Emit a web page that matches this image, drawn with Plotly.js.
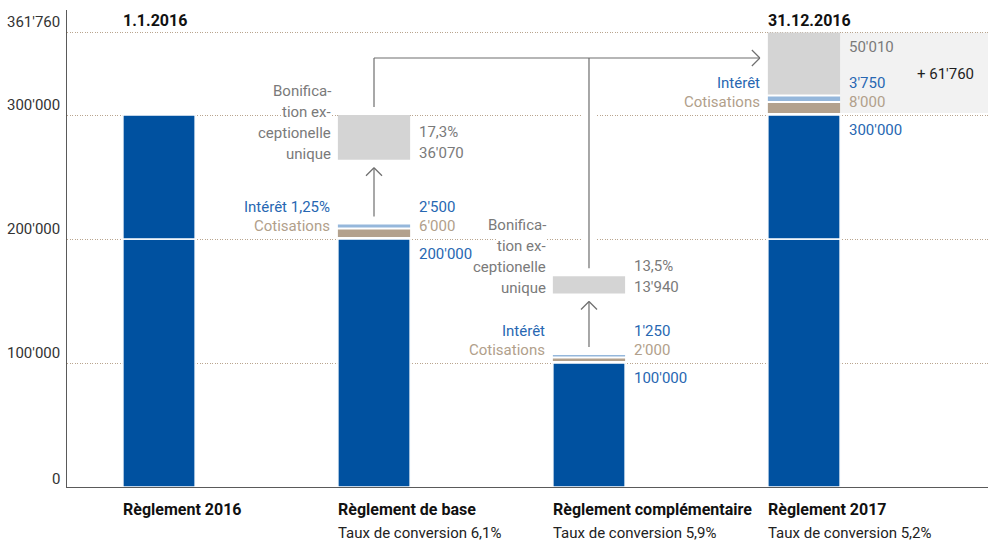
<!DOCTYPE html>
<html><head><meta charset="utf-8">
<script src="https://cdn.plot.ly/plotly-3.0.1.min.js"></script>
<style>html,body{margin:0;padding:0;background:#fff}#chart{width:988px;height:541px}</style>
</head><body><div id="chart"></div>
<script>
// ---- data ----
const categories = ['Règlement 2016', 'Règlement de base', 'Règlement complémentaire', 'Règlement 2017'];
const dateLabels = ['1.1.2016', '', '', '31.12.2016'];
const conversionRates = ['', 'Taux de conversion 6,1%', 'Taux de conversion 5,9%', 'Taux de conversion 5,2%'];
const savings = [300000, 200000, 100000, 300000];
const cotisations = [0, 6000, 2000, 8000];
const interet = [0, 2500, 1250, 3750];
const interetNames = ['', 'Intérêt 1,25%', 'Intérêt', 'Intérêt'];
const cotisationsName = 'Cotisations';
const bonification = [0, 36070, 13940, 50010];
const bonificationRates = ['', '17,3%', '13,5%', ''];
const bonificationText = ['Bonifica-', 'tion ex-', 'ceptionelle', 'unique'];
const tickVals = [0, 100000, 200000, 300000, 361760];

// ---- layout constants ----
const W = 988, H = 541, M = {l: 67, r: 0, t: 10, b: 54};
const plotW = W - M.l - M.r, plotH = H - M.t - M.b;
const yMax = 384700, xMin = -0.428, xMax = 3.856;
const vpx = yMax / plotH;            // value per pixel
const upx = (xMax - xMin) / plotW;   // x-units per pixel
const barW = 0.336, half = barW / 2;
const gap = 2 * vpx;                 // white gap between stacked pieces
const splitLevel = 200000;
const bonusTop = [null, 300000, 170000, null];
const connectorLevel = 346000;
const C = {navy: '#0051a0', tan: '#b3a18d', sky: '#95b7db', grey: '#d4d4d4',
  blueText: '#2767b2', tanText: '#b1a08b', greyText: '#7a7a7a', dark: '#1e1e1e',
  axis: '#5a5a5a', grid: '#b9a58e', arrow: '#6e6e6e', band: '#f2f2f2'};
const FONT = 'Roboto, "Open Sans", sans-serif';
const fmt = n => String(n).replace(/\B(?=(\d{3})+(?!\d))/g, "'");

// ---- derived ----
const nz = a => a.map(v => (v === 0 ? null : v));
const lower = savings.map(v => Math.min(v, splitLevel));
const upper = savings.map((v, i) => v - lower[i]);
const cotBase = savings.map(v => v + gap);
const intBase = cotBase.map((v, i) => v + cotisations[i] + gap);
const stackTop = intBase.map((v, i) => v + interet[i]);
const bonBase = bonification.map((b, i) => (bonusTop[i] != null ? bonusTop[i] - b : stackTop[i] + gap));
const bonTop = bonBase.map((b, i) => b + bonification[i]);
const last = categories.length - 1;
// top gridline sits on the drawn top of the final bar
const gridVals = tickVals.map((v, k) => (k === tickVals.length - 1 ? bonTop[last] : v));

function bar(y, base, color, lw) {
  return {type: 'bar', x: categories, y: nz(y), base: base, width: barW,
    marker: {color: color, line: {color: '#ffffff', width: lw}},
    hoverinfo: 'skip', showlegend: false};
}
const traces = [
  bar(lower, savings.map(() => 0), C.navy, 1.5),
  bar(upper, lower, C.navy, 1.5),
  bar(cotisations, cotBase, C.tan, 0),
  bar(interet, intBase, C.sky, 0),
  bar(bonification, bonBase, C.grey, 0)
];

const ann = [];
const f = (color, extra) => Object.assign({family: FONT, size: 15, color: color}, extra || {});
tickVals.forEach((v, k) => ann.push({xref: 'paper', x: 0, xanchor: 'right', xshift: -5,
  yref: 'y', y: gridVals[k], yanchor: 'bottom', yshift: v === 0 ? -3 : -1,
  text: fmt(v), showarrow: false, font: f('#333333')}));

categories.forEach((cat, i) => {
  ann.push({xref: 'x', x: i - half, xanchor: 'left', xshift: -2, yref: 'paper', y: 0,
    yanchor: 'top', yshift: -11, text: cat, showarrow: false, font: f('#111111', {size: 16, weight: 700})});
  if (conversionRates[i]) ann.push({xref: 'x', x: i - half, xanchor: 'left', xshift: -2, yref: 'paper', y: 0,
    yanchor: 'top', yshift: -35, text: conversionRates[i], showarrow: false, font: f('#222222')});
  if (dateLabels[i]) ann.push({xref: 'x', x: i - half, xanchor: 'left', xshift: -2, yref: 'y', y: gridVals[gridVals.length - 1],
    yanchor: 'bottom', yshift: 0, text: dateLabels[i], showarrow: false, font: f('#111111', {size: 16, weight: 700})});
  if (!cotisations[i]) return;
  ann.push({xref: 'x', x: i - half, xanchor: 'right', xshift: -6, yref: 'y', y: savings[i], yanchor: 'middle', yshift: 32,
    text: interetNames[i], showarrow: false, font: f(C.blueText)});
  ann.push({xref: 'x', x: i - half, xanchor: 'right', xshift: -6, yref: 'y', y: savings[i], yanchor: 'middle', yshift: 13,
    text: cotisationsName, showarrow: false, font: f(C.tanText)});
  ann.push({xref: 'x', x: i + half, xanchor: 'left', xshift: 7, yref: 'y', y: savings[i], yanchor: 'middle', yshift: 32,
    text: fmt(interet[i]), showarrow: false, font: f(C.blueText)});
  ann.push({xref: 'x', x: i + half, xanchor: 'left', xshift: 7, yref: 'y', y: savings[i], yanchor: 'middle', yshift: 13,
    text: fmt(cotisations[i]), showarrow: false, font: f(C.tanText)});
  ann.push({xref: 'x', x: i + half, xanchor: 'left', xshift: 7, yref: 'y', y: savings[i], yanchor: 'middle', yshift: -15,
    text: fmt(savings[i]), showarrow: false, font: f(C.blueText)});
  if (bonusTop[i] != null) {
    ann.push({xref: 'x', x: i + half, xanchor: 'left', xshift: 7, yref: 'y', y: bonBase[i], yanchor: 'middle', yshift: 7,
      text: fmt(bonification[i]), showarrow: false, font: f(C.greyText)});
    ann.push({xref: 'x', x: i + half, xanchor: 'left', xshift: 7, yref: 'y', y: bonBase[i], yanchor: 'middle', yshift: 28,
      text: bonificationRates[i], showarrow: false, font: f(C.greyText)});
    bonificationText.forEach((t, k) => ann.push({xref: 'x', x: i - half, xanchor: 'right', xshift: -6, yref: 'y', y: bonBase[i],
      yanchor: 'middle', yshift: 6 + 21 * (bonificationText.length - 1 - k), text: t, showarrow: false,
      bgcolor: '#ffffff', borderpad: 0, font: f(C.greyText)}));
  } else {
    ann.push({xref: 'x', x: i + half, xanchor: 'left', xshift: 7, yref: 'y', y: bonTop[i], yanchor: 'middle', yshift: -15,
      text: fmt(bonification[i]), showarrow: false, font: f(C.greyText)});
  }
});
const increase = cotisations[last] + interet[last] + bonification[last];
ann.push({xref: 'paper', x: 1, xanchor: 'right', xshift: -12, yref: 'y', y: (savings[last] + bonTop[last]) / 2,
  yanchor: 'middle', text: '+ ' + fmt(increase), showarrow: false, font: f(C.dark)});

// ---- shapes ----
const shapes = [];
shapes.push({type: 'rect', xref: 'x', yref: 'y', x0: last + half, x1: xMax, y0: savings[last] + gap, y1: bonTop[last],
  fillcolor: C.band, line: {width: 0}, layer: 'below'});
const ln = (x0, y0, x1, y1, extra) => Object.assign({type: 'line', xref: 'x', yref: 'y', x0, y0, x1, y1,
  line: {color: C.arrow, width: 1.2}, layer: 'above'}, extra || {});
const tipX = last - half - 8 * upx;
[1, 2].forEach(i => {
  shapes.push(ln(i, bonTop[i] + 8 * vpx, i, connectorLevel, {line: {color: '#ffffff', width: 14}, layer: 'between'}));
});
[1, 2].forEach(i => {
  shapes.push(ln(i, bonTop[i] + 8 * vpx, i, connectorLevel));
  const y0 = stackTop[i] + 8 * vpx, y1 = bonBase[i] - 8 * vpx;
  shapes.push(ln(i, y0, i, y1));
  shapes.push(ln(i - 8 * upx, y1 - 8 * vpx, i, y1));
  shapes.push(ln(i + 8 * upx, y1 - 8 * vpx, i, y1));
});
shapes.push(ln(1, connectorLevel, tipX, connectorLevel));
shapes.push(ln(tipX - 8 * upx, connectorLevel + 8 * vpx, tipX, connectorLevel));
shapes.push(ln(tipX - 8 * upx, connectorLevel - 8 * vpx, tipX, connectorLevel));

const layout = {
  width: W, height: H, margin: M, paper_bgcolor: '#ffffff', plot_bgcolor: '#ffffff',
  barmode: 'overlay', showlegend: false, font: {family: FONT, size: 15},
  xaxis: {type: 'category', range: [xMin, xMax], showline: true, linecolor: C.axis, linewidth: 1,
    showticklabels: false, showgrid: false, zeroline: false, ticks: '', fixedrange: true},
  yaxis: {range: [0, yMax], showline: true, linecolor: C.axis, linewidth: 1, showticklabels: false,
    tickvals: gridVals, showgrid: true, gridcolor: C.grid, griddash: '1px,1.5px', gridwidth: 1,
    zeroline: false, ticks: '', fixedrange: true},
  annotations: ann, shapes: shapes
};
Plotly.newPlot('chart', traces, layout, {staticPlot: true, displayModeBar: false});
</script>
</body></html>
